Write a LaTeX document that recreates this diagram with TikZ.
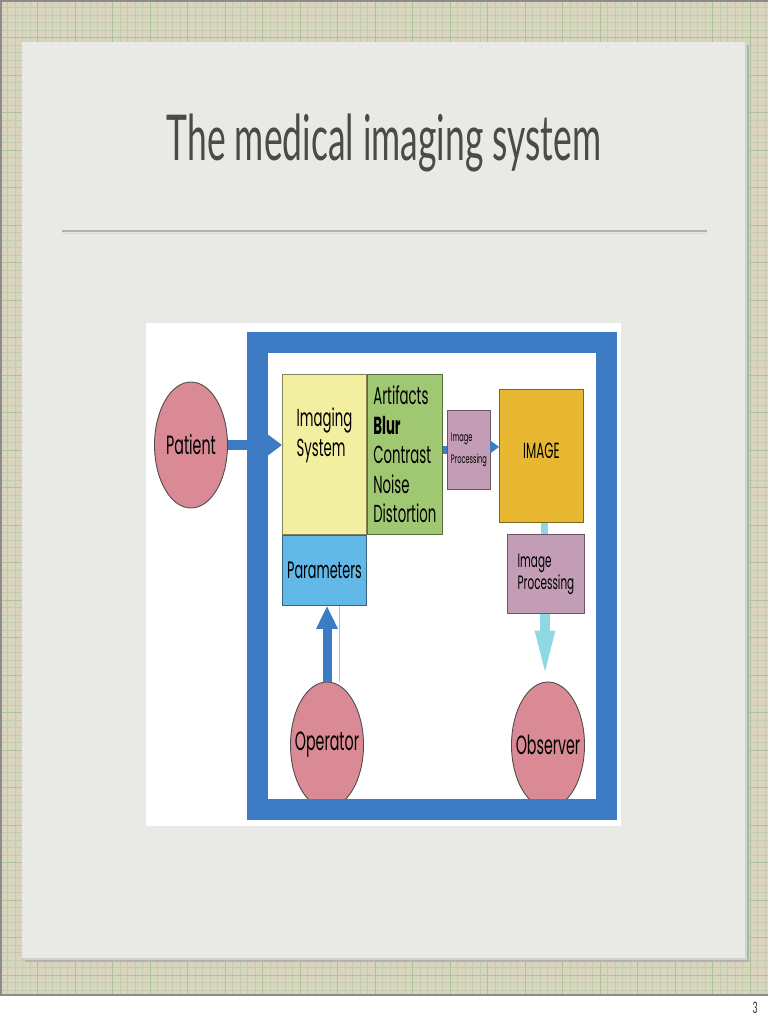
\documentclass[tikz,border=0pt]{standalone}
\usepackage{fontspec}
\usepackage{tikz}
\usetikzlibrary{arrows.meta,positioning,calc,shapes.geometric}
\newfontfamily\titlefont[FakeStretch=0.56]{Lato}
\newfontfamily\diafont[FakeStretch=0.54]{Poppins}
\definecolor{paper}{RGB}{216,212,190}
\definecolor{gridC}{RGB}{192,205,172}
\definecolor{gridD}{RGB}{172,194,152}
\definecolor{cardC}{RGB}{233,233,230}
\definecolor{titleC}{RGB}{75,74,71}
\definecolor{frameC}{RGB}{62,123,197}
\definecolor{yelC}{RGB}{243,239,160}
\definecolor{grnC}{RGB}{160,200,115}
\definecolor{parC}{RGB}{98,184,230}
\definecolor{mauC}{RGB}{195,157,181}
\definecolor{imgC}{RGB}{233,184,51}
\definecolor{pinkC}{RGB}{217,138,148}
\definecolor{cyaC}{RGB}{142,216,228}
\newcommand\pxl{0.02cm}
\tikzset{
  blok/.style={rectangle, draw=#1!55!black, fill=#1, line width=0.5pt, inner sep=0pt,
               font=\diafont, align=left},
  oval/.style={ellipse, draw=black!70, fill=pinkC, line width=0.5pt, inner sep=0pt,
               minimum width=73*\pxl, minimum height=126*\pxl},
  ovaltext/.style={font=\diafont\fontsize{15}{17}\selectfont},
  fatarr/.style={draw=frameC, line width=10*\pxl},
}
\begin{document}
\begin{tikzpicture}[x=0.02cm, y=-0.02cm, node distance=0pt]
  \useasboundingbox (0,0) rectangle (768,1024);
  % graph paper behind the slide
  \fill[paper] (0,0) rectangle (768,995);
  \begin{scope}[y=0.02cm]
    \draw[gridC, line width=0.25pt, step=7.5] (0,-995) grid (768,0);
    \draw[gridD, line width=0.4pt, step=37.5] (0,-995) grid (768,0);
  \end{scope}
  \draw[black!45, line width=1.2pt] (0,1) -- (768,1) (0.5,0) -- (0.5,995) (0,995) -- (768,995);
  \node[font=\titlefont\fontsize{9}{10}\selectfont, text=black!80, anchor=base east] (pnum) at (764,1013) {3};
  % slide card
  \fill[black!30] (25,45) rectangle (749,962);
  \fill[black!18] (23,43) rectangle (747,960);
  \fill[cardC] (22,42) rectangle (745,958);
  \node[font=\titlefont\fontsize{36}{40}\selectfont, text=titleC, anchor=base] (title) at (384,160)
    {The medical imaging system};
  \draw[black!30, line width=1.4pt] (62,231) -- (707,231);
  \draw[white!85!black, line width=0.8pt] (62,233.5) -- (707,233.5);
  % the diagram
  \fill[white] (146,323) rectangle (621,826);

  \node[blok=yelC, minimum width=84*\pxl, minimum height=160*\pxl, anchor=north west,
        label={[font=\diafont\fontsize{14}{17}\selectfont, align=left, yshift=19*\pxl]center:Imaging\\System}]
        (imgsys) at (282,374) {};
  \node[blok=grnC, minimum width=75*\pxl, minimum height=160*\pxl, right=of imgsys,
        font=\diafont\fontsize{14}{16.8}\selectfont] (defects)
        {Artifacts\\\textbf{Blur}\\Contrast\\Noise\\Distortion};
  \node[blok=parC, minimum width=84*\pxl, minimum height=70*\pxl, below=of imgsys,
        font=\diafont\fontsize{13.5}{16}\selectfont] (params) {Parameters};
  \node[blok=mauC, minimum width=43*\pxl, minimum height=79*\pxl, anchor=north west,
        font=\diafont\fontsize{7}{12.5}\selectfont] (proc1) at (447,410) {Image\\Processing};
  \node[blok=imgC, minimum width=84*\pxl, minimum height=133*\pxl, anchor=north west,
        label={[font=\diafont\fontsize{12.5}{14}\selectfont, yshift=5*\pxl]center:IMAGE}]
        (image) at (499,389) {};
  \node[blok=mauC, minimum width=77*\pxl, minimum height=79*\pxl, anchor=north west,
        font=\diafont\fontsize{11}{12.5}\selectfont] (proc2) at (507,534) {Image\\Processing};

  \node[oval, label={[ovaltext]center:Patient}] (patient) at (191,445) {};
  \node[oval, label={[ovaltext]center:Operator}] (operator) at (327,745) {};
  \node[oval, label={[ovaltext]center:Observer}] (observer) at (548,745) {};

  % connectors
  \draw[fatarr, -{Triangle[length=14*\pxl, width=20*\pxl]}] (patient.east) -- (patient.east -| imgsys.west);
  \draw[fatarr, line width=8*\pxl] (proc1.west -| defects.east) -- (proc1.west);
  \draw[draw=frameC, line width=0.1pt, -{Triangle[length=9*\pxl, width=13*\pxl]}, fill=frameC]
    ($(proc1.east)+(0,-3)$) -- ($(proc1.east -| image.west)+(0,-3)$);
  \draw[draw=cyaC, line width=7*\pxl] (proc2.north -| 544,0) -- (image.south -| 544,0);
  \draw[draw=cyaC, line width=10*\pxl, -{Triangle[length=51*\pxl, width=17*\pxl]}]
    (proc2.south -| 545,0) -- (observer.north -| 545,0);
  \draw[fatarr, line width=9*\pxl, -{Triangle[length=23*\pxl, width=20*\pxl]}]
    (operator.north) -- (operator.north |- params.south);
  \draw[pinkC!70, line width=0.3pt] (params.south -| 339,0) -- (operator.north -| 339,0);

  % blue frame
  \draw[frameC, line width=21*\pxl] (257,342) rectangle (606.5,809);
\end{tikzpicture}
\end{document}
